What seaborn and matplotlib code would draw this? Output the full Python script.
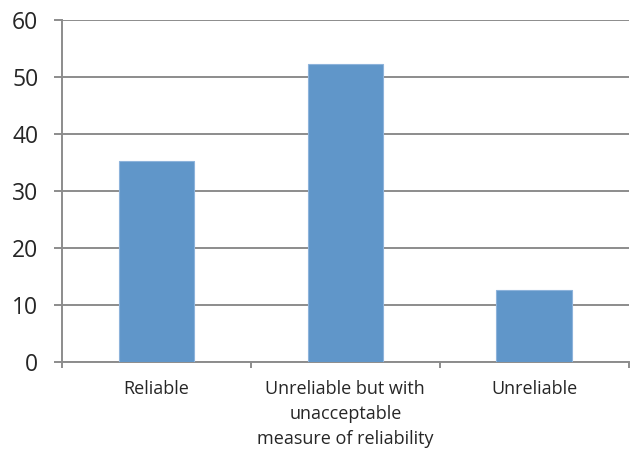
import matplotlib
matplotlib.use("Agg")
import matplotlib.pyplot as plt
import numpy as np
import pandas as pd
import seaborn as sns

categories = ["Reliable",
              "Unreliable but with\nunacceptable\nmeasure of reliability",
              "Unreliable"]
values = [35.2, 52.2, 12.7]
yticks = [0, 10, 20, 30, 40, 50, 60]

BAR_COLOR = "#6096C9"
GRID_COLOR = "#8C8C8C"

sns.set_style("white")
plt.rcParams["font.family"] = ["Open Sans", "DejaVu Sans"]

df = pd.DataFrame({"category": categories, "value": values})

fig = plt.figure(figsize=(6.3, 4.5), dpi=100)
ax = fig.add_axes([0.0984, 0.1956, 0.8996, 0.76])

sns.barplot(data=df, x="category", y="value", color=BAR_COLOR, width=0.4,
            saturation=1, edgecolor="#8DB3DB", linewidth=0.8, ax=ax, zorder=3)

ax.set_xlim(-0.5, len(categories) - 0.5)
ax.set_ylim(0, 60)
ax.set_yticks(yticks)
ax.yaxis.grid(True, color=GRID_COLOR, linewidth=1.4, zorder=0)
ax.set_axisbelow(True)

for side in ["top", "right"]:
    ax.spines[side].set_visible(False)
for side in ["left", "bottom"]:
    ax.spines[side].set_color(GRID_COLOR)
    ax.spines[side].set_linewidth(1.4)

ax.tick_params(axis="y", length=6, width=1.4, color=GRID_COLOR,
               labelsize=16.5, pad=11, left=True)
ax.tick_params(axis="x", which="major", length=0, labelsize=13, pad=13)
ax.set_xticks(np.arange(-0.5, len(categories), 1.0), minor=True)
ax.tick_params(axis="x", which="minor", length=4.5, width=1.4,
               color=GRID_COLOR, bottom=True)
for lbl in ax.get_xticklabels():
    lbl.set_linespacing(1.5)
    lbl.set_verticalalignment("top")

ax.set_xlabel("")
ax.set_ylabel("")

fig.savefig("out.png", dpi=100)
plt.close(fig)
